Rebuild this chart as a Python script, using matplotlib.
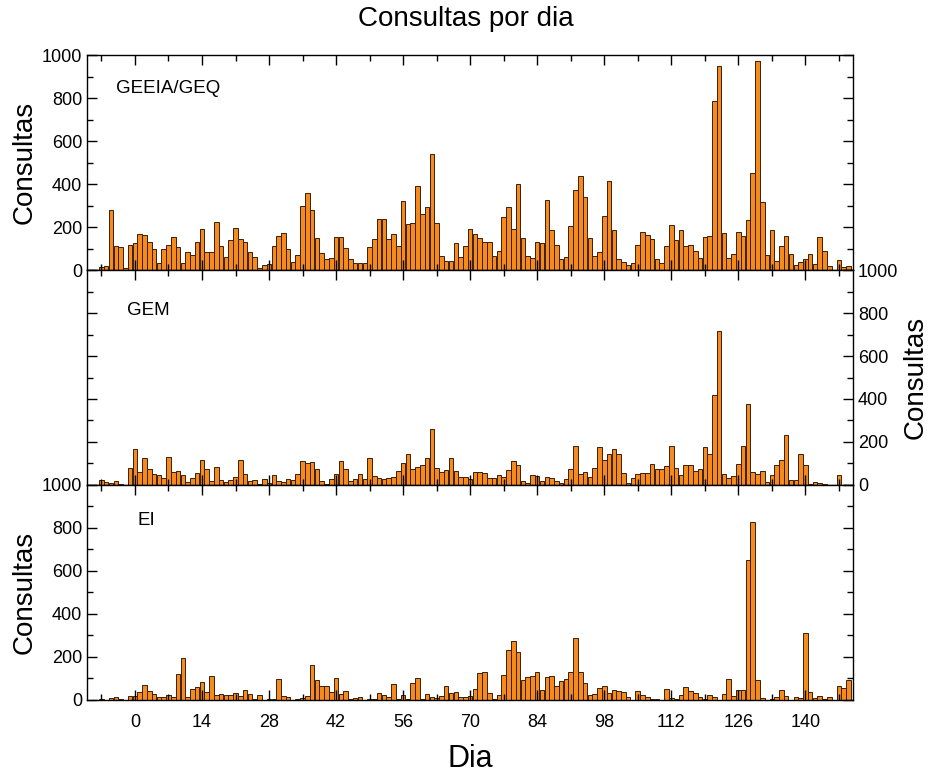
import matplotlib.pyplot as plt
from matplotlib.ticker import MultipleLocator
import numpy as np

plt.rcParams['font.family'] = ['Liberation Sans', 'DejaVu Sans']

# dias -7 .. 149
dias = np.arange(-7, 150)

geeia = [15, 18, 280, 110, 107, 10, 115, 125, 168, 164, 133, 99, 35, 99, 117, 153,
         107, 35, 85, 72, 130, 190, 85, 86, 225, 111, 60, 142, 195, 147, 130, 85,
         60, 12, 25, 29, 114, 157, 174, 99, 39, 70, 300, 357, 278, 150, 79, 51,
         56, 153, 156, 105, 51, 31, 31, 34, 108, 144, 239, 238, 145, 170, 113, 324,
         215, 218, 394, 259, 293, 539, 218, 66, 42, 42, 127, 59, 113, 191, 170, 150,
         133, 130, 68, 91, 247, 296, 191, 401, 148, 66, 57, 133, 125, 326, 188, 117,
         54, 60, 207, 371, 438, 340, 148, 68, 86, 252, 417, 188, 52, 36, 26, 32,
         117, 176, 164, 147, 52, 31, 114, 210, 140, 185, 113, 117, 90, 57, 154, 160,
         789, 951, 174, 56, 76, 179, 160, 232, 452, 974, 315, 71, 188, 43, 111, 157,
         73, 25, 36, 50, 75, 29, 153, 88, 20, 0, 45, 14, 17]

gem = [23, 14, 9, 19, 3, 0, 78, 167, 58, 125, 72, 51, 47, 34, 128, 58,
       65, 45, 14, 30, 55, 117, 72, 17, 84, 22, 14, 23, 39, 114, 51, 17,
       23, 3, 28, 9, 44, 19, 14, 28, 23, 51, 109, 100, 107, 73, 17, 3,
       28, 50, 111, 73, 20, 26, 51, 26, 125, 41, 30, 28, 34, 39, 67, 100,
       146, 72, 84, 92, 125, 260, 78, 58, 70, 123, 65, 36, 39, 26, 58, 61,
       56, 34, 31, 44, 36, 70, 109, 93, 16, 11, 47, 42, 17, 39, 30, 20,
       9, 28, 76, 182, 51, 61, 39, 81, 175, 117, 145, 167, 142, 56, 11, 33,
       53, 55, 55, 98, 75, 72, 87, 179, 78, 45, 95, 92, 65, 72, 175, 145,
       419, 715, 51, 30, 42, 98, 181, 375, 59, 51, 65, 14, 47, 95, 118, 231,
       25, 22, 146, 92, 6, 12, 11, 3, 0, 0, 47, 0, 0]

ei = [3, 0, 8, 11, 5, 0, 15, 15, 37, 70, 39, 26, 14, 14, 20, 11,
      121, 196, 11, 51, 57, 83, 36, 111, 20, 28, 20, 23, 31, 19, 43, 26,
      5, 23, 0, 3, 5, 96, 17, 12, 0, 4, 8, 17, 162, 91, 63, 62,
      36, 102, 26, 40, 3, 6, 11, 0, 5, 5, 31, 22, 11, 71, 5, 20,
      3, 76, 102, 5, 26, 11, 8, 17, 65, 32, 36, 14, 11, 17, 48, 124,
      130, 31, 5, 22, 114, 232, 271, 220, 93, 104, 108, 131, 45, 107, 111, 63,
      85, 96, 130, 289, 130, 79, 23, 28, 53, 65, 32, 45, 40, 37, 14, 0,
      40, 23, 14, 5, 3, 0, 49, 8, 3, 20, 59, 40, 32, 14, 5, 23,
      14, 0, 28, 96, 19, 45, 43, 649, 826, 90, 9, 0, 5, 12, 46, 17,
      0, 14, 8, 311, 34, 8, 17, 5, 14, 0, 63, 54, 90]

grupos = ["GEEIA/GEQ", "GEM", "EI"]
series = [geeia, gem, ei]

fig = plt.figure(figsize=(9.31, 7.74), dpi=100)
left, width = 0.0935, 0.823
h = 0.2775
bottoms = [0.651, 0.3735, 0.096]
label_pos = [(0.038, 0.845), (0.052, 0.81), (0.066, 0.835)]

axes = []
for i in range(3):
    ax = fig.add_axes([left, bottoms[i], width, h])
    ax.bar(dias, series[i], width=0.95, color="#F58A1F",
           edgecolor="#3b1f05", linewidth=0.7)
    ax.set_xlim(-10, 150)
    ax.set_ylim(0, 1000)
    ax.xaxis.set_major_locator(MultipleLocator(14))
    ax.xaxis.set_minor_locator(MultipleLocator(7))
    ax.yaxis.set_major_locator(MultipleLocator(200))
    ax.yaxis.set_minor_locator(MultipleLocator(100))
    ax.tick_params(which="both", direction="in", top=True, right=True,
                   labelsize=13, width=1)
    ax.tick_params(which="major", length=7)
    ax.tick_params(which="minor", length=4)
    ax.tick_params(axis="x", which="major", pad=10.5)
    for s in ax.spines.values():
        s.set_linewidth(1.0)
    ax.text(label_pos[i][0], label_pos[i][1], grupos[i], transform=ax.transAxes,
            fontsize=13.5, va="center", ha="left")
    axes.append(ax)

ax1, ax2, ax3 = axes
ax1.tick_params(labelbottom=False)
ax2.tick_params(labelbottom=False, labelleft=False, labelright=True)
ax2.yaxis.set_label_position("right")

ax1.set_ylabel("Consultas", fontsize=20, labelpad=3)
ax2.set_ylabel("Consultas", fontsize=20, labelpad=3)
ax3.set_ylabel("Consultas", fontsize=20, labelpad=3)
ax3.set_xlabel("Dia", fontsize=22, labelpad=9)

fig.suptitle("Consultas por dia", fontsize=20, y=0.992)

fig.savefig("out.png", dpi=100)
